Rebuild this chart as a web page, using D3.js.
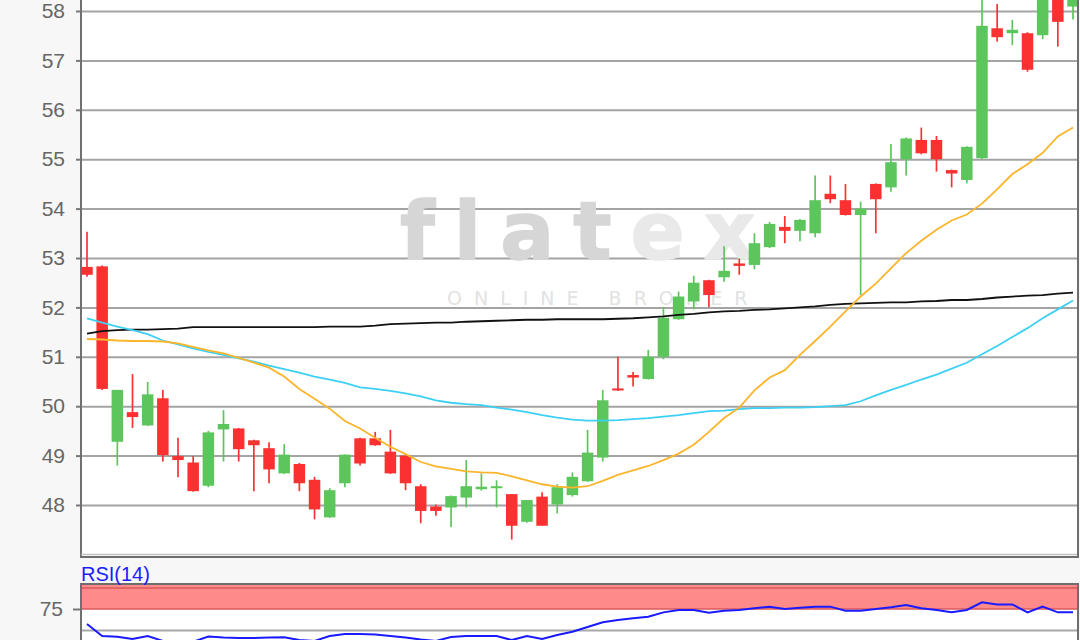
<!DOCTYPE html>
<html><head><meta charset="utf-8">
<script src="https://cdn.jsdelivr.net/npm/d3@7"></script>
<style>html,body{margin:0;padding:0;background:#f7f7f7;}svg{display:block;}</style>
</head><body>
<svg id="c" width="1080" height="640"></svg>
<script>
// ---- data ----
const open  = [52.82,52.83,49.28,49.88,49.61,50.16,48.99,48.86,48.39,49.53,49.55,49.31,49.15,48.64,48.83,48.51,47.75,48.44,49.35,49.35,49.08,49.00,48.38,47.97,47.95,48.15,48.32,48.36,48.22,47.66,48.17,48.01,48.20,48.48,48.96,50.36,50.63,50.55,51.00,51.76,52.12,52.55,52.61,52.89,52.86,53.22,53.63,53.55,53.50,54.30,54.17,53.87,54.50,54.43,55.00,55.39,55.39,54.78,54.58,55.02,57.65,57.55,57.55,57.51,58.50,58.09];
const high  = [53.53,52.85,50.33,50.65,50.49,50.33,49.36,48.99,49.50,49.92,49.56,49.32,49.27,49.23,48.85,48.57,48.34,49.02,49.36,49.48,49.52,49.00,48.42,48.01,48.19,48.91,48.64,48.50,48.22,48.10,48.26,48.42,48.66,49.52,50.33,51.00,50.69,51.14,52.01,52.32,52.64,52.56,53.24,52.99,53.50,53.73,53.85,53.79,54.67,54.67,54.50,54.14,54.51,55.31,55.44,55.64,55.47,54.79,55.26,58.40,58.14,57.82,57.57,58.70,58.70,58.60];
const low   = [52.62,50.33,48.80,49.56,49.60,48.88,48.56,48.27,48.36,48.88,48.88,48.28,48.44,48.63,48.28,47.71,47.74,48.36,48.80,49.20,48.63,48.30,47.63,47.78,47.55,47.95,48.29,47.95,47.30,47.64,47.58,47.83,48.17,48.47,48.88,50.31,50.40,50.54,50.95,51.75,51.96,52.01,52.52,52.66,52.77,53.20,53.30,53.34,53.42,54.11,53.86,52.25,53.50,54.34,54.67,55.10,54.75,54.43,54.51,55.00,57.38,57.31,56.77,57.43,57.28,57.83];
const close = [52.66,50.35,50.33,49.78,50.24,49.01,48.91,48.28,49.47,49.64,49.13,49.21,48.72,49.02,48.44,47.91,48.30,49.02,48.84,49.21,48.64,48.44,47.88,47.88,48.18,48.38,48.37,48.38,47.58,48.10,47.58,48.36,48.57,49.06,50.12,50.32,50.58,51.00,51.79,52.22,52.50,52.25,52.74,52.84,53.30,53.69,53.55,53.77,54.17,54.19,53.87,54.00,54.19,54.94,55.42,55.12,55.00,54.71,55.25,57.70,57.47,57.62,56.81,58.55,57.78,58.40];
const maFast = [51.36,51.35,51.33,51.32,51.32,51.31,51.27,51.20,51.13,51.07,50.98,50.88,50.78,50.60,50.35,50.15,49.95,49.70,49.55,49.36,49.18,49.03,48.87,48.78,48.73,48.68,48.66,48.65,48.58,48.50,48.42,48.37,48.35,48.38,48.49,48.61,48.70,48.79,48.91,49.04,49.22,49.48,49.76,49.97,50.32,50.58,50.73,51.04,51.32,51.61,51.92,52.22,52.48,52.79,53.10,53.35,53.57,53.76,53.88,54.10,54.39,54.70,54.90,55.13,55.46,55.64];
const maMid = [51.78,51.69,51.61,51.54,51.46,51.33,51.25,51.17,51.10,51.04,50.97,50.90,50.82,50.75,50.68,50.60,50.54,50.47,50.38,50.35,50.31,50.26,50.20,50.12,50.07,50.04,50.02,49.97,49.93,49.88,49.82,49.77,49.73,49.71,49.71,49.72,49.74,49.76,49.79,49.82,49.86,49.90,49.91,49.94,49.96,49.96,49.97,49.97,49.98,50.00,50.02,50.10,50.22,50.33,50.43,50.54,50.64,50.76,50.88,51.05,51.22,51.40,51.58,51.78,51.96,52.14];
const maSlow = [51.47,51.52,51.54,51.55,51.55,51.56,51.57,51.60,51.60,51.60,51.60,51.60,51.60,51.60,51.60,51.60,51.61,51.61,51.61,51.63,51.66,51.67,51.68,51.69,51.69,51.71,51.72,51.73,51.74,51.75,51.75,51.76,51.76,51.76,51.76,51.77,51.78,51.80,51.82,51.85,51.87,51.90,51.92,51.93,51.95,51.96,51.98,52.00,52.02,52.05,52.07,52.08,52.09,52.10,52.10,52.12,52.13,52.15,52.15,52.17,52.20,52.22,52.24,52.25,52.28,52.30];
const rsi14 = [57.1,42.9,42.0,39.3,42.9,37.0,35.0,36.0,42.3,41.0,40.5,40.5,41.0,41.3,38.0,37.0,42.9,45.2,45.2,44.6,42.9,41.0,38.7,37.0,41.7,42.9,42.9,42.9,38.0,42.9,39.3,44.0,48.0,53.6,59.2,62.0,64.0,65.8,71.0,73.8,73.8,70.6,73.0,73.8,75.8,77.8,75.0,76.4,77.8,77.8,73.0,73.0,75.0,77.0,79.8,75.8,73.8,71.0,73.8,82.9,80.5,80.5,71.0,77.8,71.0,71.0];
const priceTicks = [48,49,50,51,52,53,54,55,56,57,58];
const rsiTicks = [75];
const rsiGrid = [50];
const rsiBand = [75,100];
const rsiTitle = "RSI(14)";

// ---- layout ----
const L = 81, R = 1078, mainBottom = 554, rsiTop = 584;
const svg = d3.select("#c");
const n = open.length;
const x = d3.scaleLinear().domain([0, n-1]).range([87, 1073]);
const y = d3.scaleLinear().domain([48, 58]).range([505, 11]);
const yR = d3.scaleLinear().domain([0, 100]).range([672, 588]);
const FONT = "'Liberation Sans', Arial, sans-serif";

const defs = svg.append("defs");
defs.append("clipPath").attr("id","cm").append("rect").attr("x",L).attr("y",0).attr("width",R-L).attr("height",mainBottom);
defs.append("clipPath").attr("id","cr").append("rect").attr("x",L).attr("y",rsiTop).attr("width",R-L).attr("height",640-rsiTop);

// main panel
svg.append("rect").attr("x",L).attr("y",0).attr("width",R-L).attr("height",mainBottom+2).attr("fill","#fff");

// gridlines
const grid = svg.append("g").attr("transform",`translate(${L},0)`)
  .call(d3.axisLeft(y).tickValues(priceTicks).tickSize(-(R-L)).tickFormat(""));
grid.select(".domain").remove();
grid.selectAll("line").attr("stroke","#a4a4a4").attr("stroke-width",2);

// watermark
const wm = svg.append("g").attr("font-family","'DejaVu Sans', sans-serif").attr("font-weight","bold");
const wt = wm.append("text").attr("x",400).attr("y",259).attr("font-size",80).attr("letter-spacing",19)
  .attr("stroke-linejoin","round").attr("stroke-width",1.5);
wt.append("tspan").attr("fill","#d6d6d6").attr("stroke","#d6d6d6").text("flat");
wt.append("tspan").attr("fill","#e9e9e9").attr("stroke","#e9e9e9").text("ex");
wm.append("text").attr("x",447).attr("y",305).attr("font-size",19).attr("font-weight","normal").attr("letter-spacing",12)
  .attr("fill","#e2e2e2").text("ONLINE BROKER");

// candles
const cg = svg.append("g").attr("clip-path","url(#cm)");
const idx = d3.range(n);
const GREEN = "#5cc65c", RED = "#fb3131";
const col = i => close[i] >= open[i] ? GREEN : RED;
cg.selectAll("line.w").data(idx).join("line")
  .attr("x1", i => x(i)).attr("x2", i => x(i))
  .attr("y1", i => y(high[i])).attr("y2", i => y(low[i]))
  .attr("stroke", col).attr("stroke-width", 1.7);
const bw = 11.5;
cg.selectAll("rect.b").data(idx).join("rect")
  .attr("x", i => x(i) - bw/2).attr("width", bw)
  .attr("y", i => y(Math.max(open[i], close[i])))
  .attr("height", i => Math.max(2, Math.abs(y(open[i]) - y(close[i]))))
  .attr("fill", col);

// moving averages
const lineGen = arr => d3.line().x((d,i) => x(i)).y(d => y(d)).curve(d3.curveLinear)(arr);
const mg = svg.append("g").attr("clip-path","url(#cm)").attr("fill","none").attr("stroke-width",1.8);
mg.append("path").attr("d", lineGen(maSlow)).attr("stroke","#111");
mg.append("path").attr("d", lineGen(maMid)).attr("stroke","#3dd0f5");
mg.append("path").attr("d", lineGen(maFast)).attr("stroke","#fbb52b");

// main axis
const ax = svg.append("g").attr("transform",`translate(${L},0)`)
  .call(d3.axisLeft(y).tickValues(priceTicks).tickSize(5).tickPadding(11).tickFormat(d3.format("d")));
ax.select(".domain").remove();
ax.selectAll("line").attr("stroke","#777").attr("stroke-width",2);
ax.selectAll("text").attr("font-family",FONT).attr("font-size",21).attr("fill","#666");
svg.append("line").attr("x1",L).attr("x2",L).attr("y1",0).attr("y2",mainBottom+4).attr("stroke","#707070").attr("stroke-width",2);
svg.append("line").attr("x1",L).attr("x2",R).attr("y1",mainBottom+0.5).attr("y2",mainBottom+0.5).attr("stroke","#c2c2c2").attr("stroke-width",1.5);
svg.append("line").attr("x1",L-1).attr("x2",R+1).attr("y1",mainBottom+3).attr("y2",mainBottom+3).attr("stroke","#6e6e6e").attr("stroke-width",2);
svg.append("line").attr("x1",R).attr("x2",R).attr("y1",0).attr("y2",mainBottom+4).attr("stroke","#6e6e6e").attr("stroke-width",2);

// RSI panel
svg.append("rect").attr("x",L).attr("y",rsiTop).attr("width",R-L).attr("height",640-rsiTop).attr("fill","#fff");
svg.append("rect").attr("x",L).attr("y",rsiTop).attr("width",R-L).attr("height",yR(rsiBand[0]) - rsiTop).attr("fill","#ff8a8a");
svg.append("g").selectAll("line").data(rsiBand).join("line")
  .attr("x1",L).attr("x2",R).attr("y1",d=>yR(d)).attr("y2",d=>yR(d))
  .attr("stroke","#d95a5a").attr("stroke-width",1.6);
const rg = svg.append("g").attr("transform",`translate(${L},0)`)
  .call(d3.axisLeft(yR).tickValues(rsiGrid).tickSize(-(R-L)).tickFormat(""));
rg.select(".domain").remove();
rg.selectAll("line").attr("stroke","#a8a8a8").attr("stroke-width",2);
svg.append("path").attr("clip-path","url(#cr)").attr("fill","none").attr("stroke","#1a1aff").attr("stroke-width",2)
  .attr("d", d3.line().x((d,i)=>x(i)).y(d=>yR(d))(rsi14));
const ra = svg.append("g").attr("transform",`translate(${L},0)`)
  .call(d3.axisLeft(yR).tickValues(rsiTicks).tickSize(8).tickPadding(10).tickFormat(d3.format("d")));
ra.select(".domain").remove();
ra.selectAll("line").attr("stroke","#777").attr("stroke-width",2);
ra.selectAll("text").attr("font-family",FONT).attr("font-size",21).attr("fill","#666");
svg.append("line").attr("x1",L-1).attr("x2",R+1).attr("y1",rsiTop).attr("y2",rsiTop).attr("stroke","#6e6e6e").attr("stroke-width",2);
svg.append("line").attr("x1",L).attr("x2",L).attr("y1",rsiTop).attr("y2",640).attr("stroke","#707070").attr("stroke-width",2);
svg.append("line").attr("x1",R).attr("x2",R).attr("y1",rsiTop).attr("y2",640).attr("stroke","#6e6e6e").attr("stroke-width",2);
svg.append("text").attr("x",L).attr("y",581).attr("font-family",FONT).attr("font-size",20).attr("fill","#1c1cff").text(rsiTitle);
</script>
</body></html>
